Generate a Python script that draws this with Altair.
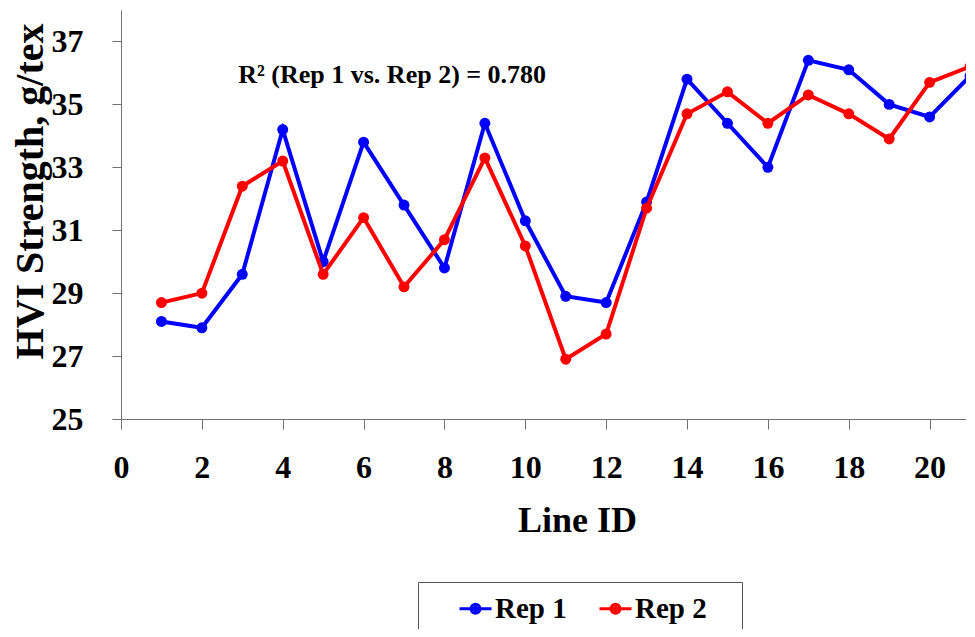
import altair as alt
import pandas as pd

line_ids = list(range(1, 22))
rep1 = [28.1, 27.9, 29.6, 34.2, 30.0, 33.8, 31.8, 29.8, 34.4, 31.3, 28.9,
        28.7, 31.9, 35.8, 34.4, 33.0, 36.4, 36.1, 35.0, 34.6, 35.9]
rep2 = [28.7, 29.0, 32.4, 33.2, 29.6, 31.4, 29.2, 30.7, 33.3, 30.5, 26.9,
        27.7, 31.7, 34.7, 35.4, 34.4, 35.3, 34.7, 33.9, 35.7, 36.2]
series_names = ["Rep 1", "Rep 2"]
series_colors = ["#0000FF", "#FF0000"]
x_ticks = list(range(0, 21, 2))
y_ticks = list(range(25, 38, 2))
annotation = "R² (Rep 1 vs. Rep 2) = 0.780"
annot_x = 2.9
annot_y = 35.67

rows = []
for name, vals in zip(series_names, [rep1, rep2]):
    for lid, v in zip(line_ids, vals):
        rows.append({"Line ID": lid, "Strength": v, "Rep": name})
df = pd.DataFrame(rows)

FONT = "Liberation Serif"

xscale = alt.Scale(domain=[0, 20.9], nice=False, zero=False)
yscale = alt.Scale(domain=[25, 38], nice=False, zero=False)
cscale = alt.Scale(domain=series_names, range=series_colors)

xaxis = alt.Axis(values=x_ticks, title="Line ID", grid=False, tickSize=10,
                 labelPadding=23, labelFontSize=32, labelFont=FONT, labelFontWeight="bold",
                 labelColor="black", titleFontSize=36, titleFont=FONT, titleFontWeight="bold",
                 titleColor="black", titleX=456, titleY=112, titleBaseline="alphabetic",
                 titleAlign="center", domainColor="#707070", tickColor="#707070",
                 labelFlush=False, labelOverlap=False)
yaxis = alt.Axis(values=y_ticks, title="HVI Strength, g/tex", grid=False, tickSize=9,
                 labelPadding=29, labelFontSize=32, labelFont=FONT, labelFontWeight="bold",
                 labelColor="black", titleFontSize=40, titleFont=FONT, titleFontWeight="bold",
                 titleColor="black", titleX=-91, titleY=181, titleBaseline="middle",
                 titleAlign="center", titleAngle=270, domainColor="#707070", tickColor="#707070",
                 labelFlush=False, labelOverlap=False)

# line with a filled dot: two concentric stroked circles make a solid disc
sym_path = ("M-1,0H1"
            "M-0.28125,0A0.28125,0.28125,0,1,1,0.28125,0A0.28125,0.28125,0,1,1,-0.28125,0"
            "M-0.09375,0A0.09375,0.09375,0,1,1,0.09375,0A0.09375,0.09375,0,1,1,-0.09375,0")
legend = alt.Legend(
    title=".", titleOrient="right", titleColor="white", titleFontSize=6, titlePadding=24,
    orient="none", legendX=297, legendY=572, direction="horizontal",
    symbolType=sym_path, symbolSize=1024, symbolStrokeWidth=3,
    labelFont=FONT, labelFontSize=29, labelFontWeight="bold", labelColor="black",
    labelOffset=2, columnPadding=0, padding=9, symbolOffset=31,
    strokeColor="#555555", fillColor="white",
)

layers = []
for name, col in zip(series_names, series_colors):
    base = alt.Chart(df).transform_filter(alt.datum.Rep == name).encode(
        x=alt.X("Line ID:Q", scale=xscale, axis=xaxis),
        y=alt.Y("Strength:Q", scale=yscale, axis=yaxis),
    )
    layers.append(base.mark_line(strokeWidth=4, clip=True).encode(
        color=alt.Color("Rep:N", scale=cscale, legend=legend)))
    layers.append(base.mark_point(filled=True, size=120, opacity=1, clip=True, color=col))

text = alt.Chart(pd.DataFrame({"x": [annot_x], "y": [annot_y], "t": [annotation]})).mark_text(
    font=FONT, fontSize=26, fontWeight="bold", align="left", baseline="alphabetic", color="black"
).encode(x=alt.X("x:Q", scale=xscale), y=alt.Y("y:Q", scale=yscale), text="t:N")

chart = alt.layer(*layers, text).properties(
    width=845, height=409,
    autosize=alt.AutoSizeParams(type="none"),
    padding={"left": 113, "top": 2, "right": 0, "bottom": 210},
).configure_view(stroke="transparent")

chart.save("out.html", embed_options={"renderer": "svg", "actions": False})
